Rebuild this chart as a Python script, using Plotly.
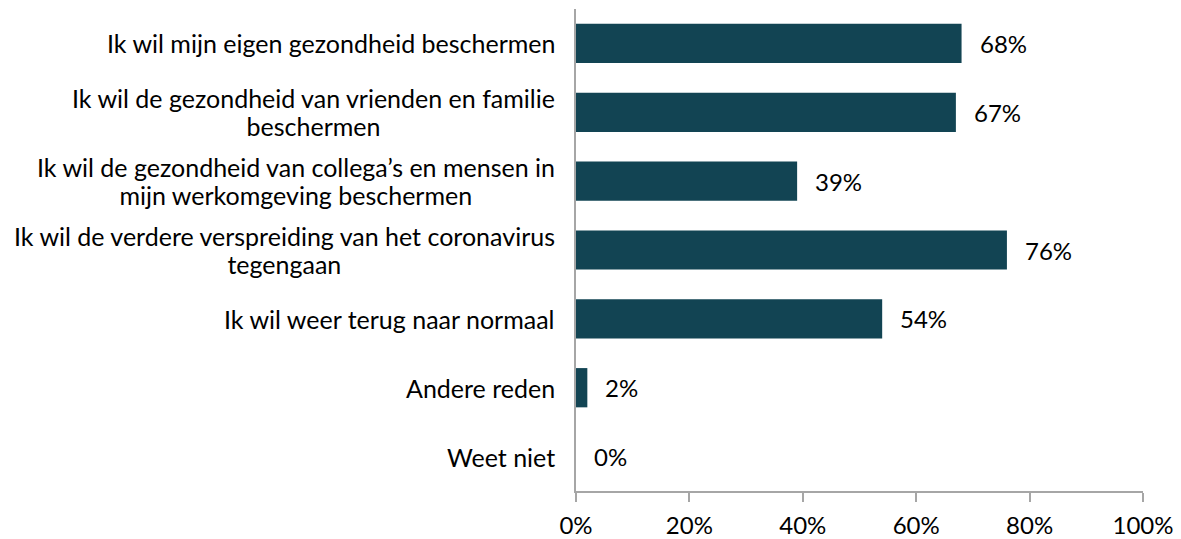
import plotly.graph_objects as go

categories = [
    "Ik wil mijn eigen gezondheid beschermen",
    "Ik wil de gezondheid van vrienden en familie<br>beschermen",
    "Ik wil de gezondheid van collega’s en mensen in<br>mijn werkomgeving beschermen",
    "Ik wil de verdere verspreiding van het coronavirus<br>tegengaan",
    "Ik wil weer terug naar normaal",
    "Andere reden",
    "Weet niet",
]
values = [68, 67, 39, 76, 54, 2, 0]
x_ticks = [0, 20, 40, 60, 80, 100]
x_tick_labels = ["0%", "20%", "40%", "60%", "80%", "100%"]

FONT = "Lato"
BAR = "#124453"
AXIS = "#A6A6A6"
LABEL_SIZE = 25
NUM_SIZE = 24
LINE_H = 28

fig = go.Figure(
    go.Bar(
        y=categories,
        x=values,
        orientation="h",
        marker=dict(color=BAR, line=dict(width=0)),
        width=0.57,
        hoverinfo="x+y",
    )
)

annotations = []
# category labels: one annotation per line (for tighter line spacing)
for c in categories:
    lines = c.split("<br>")
    n = len(lines)
    for i, line in enumerate(lines):
        annotations.append(dict(
            x=0, xref="paper", y=c, yref="y",
            text=line, showarrow=False, xanchor="right", yanchor="middle",
            xshift=-19, yshift=((n - 1) / 2 - i) * LINE_H,
            font=dict(family=FONT, size=LABEL_SIZE, color="#000000"),
        ))
# value labels
for c, v in zip(categories, values):
    annotations.append(dict(
        x=v, xref="x", y=c, yref="y",
        text=f"{v}%", showarrow=False, xanchor="left", yanchor="middle",
        xshift=16,
        font=dict(family=FONT, size=NUM_SIZE, color="#000000"),
    ))

fig.update_layout(
    width=1181, height=539,
    margin=dict(l=576, r=38, t=9, b=48),
    paper_bgcolor="white", plot_bgcolor="white",
    showlegend=False,
    annotations=annotations,
    font=dict(family=FONT, size=NUM_SIZE, color="#000000"),
    xaxis=dict(
        range=[0, 100], tickvals=x_ticks, ticktext=x_tick_labels,
        showgrid=False, zeroline=False,
        showline=True, linecolor=AXIS, linewidth=1.5,
        ticks="outside", ticklen=9, tickcolor=AXIS, tickwidth=1.5,
        ticklabelstandoff=3,
        tickfont=dict(family=FONT, size=NUM_SIZE, color="#000000"),
        automargin=False,
        fixedrange=True,
    ),
    yaxis=dict(
        type="category", autorange="reversed",
        showticklabels=False, showgrid=False, zeroline=False,
        showline=True, linecolor=AXIS, linewidth=1.5, ticks="",
        automargin=False,
        fixedrange=True,
    ),
)

# centre the lines of multi-line labels on each other (block stays right-aligned)
post = """
document.body.style.margin='0';
(function(){
  var gd = document.getElementsByClassName('plotly-graph-div')[0];
  var anns = gd.querySelectorAll('.annotation');
  var cats = gd.data[0].y;
  var k = 0;
  for (var ci = 0; ci < cats.length; ci++){
    var lines = cats[ci].split('<br>');
    if (lines.length > 1){
      var els = [];
      for (var j = 0; j < lines.length; j++) els.push(anns[k + j]);
      var widths = els.map(function(e){ return e.querySelector('text').getBBox().width; });
      var maxw = Math.max.apply(null, widths);
      for (var j = 0; j < lines.length; j++){
        var shift = (maxw - widths[j]) / 2;
        var t = els[j];
        var cur = t.getAttribute('transform') || '';
        t.setAttribute('transform', cur + ' translate(' + (-shift) + ',0)');
      }
    }
    k += lines.length;
  }
})();
"""

fig.write_html("out.html", post_script=post, config={"displayModeBar": False})
